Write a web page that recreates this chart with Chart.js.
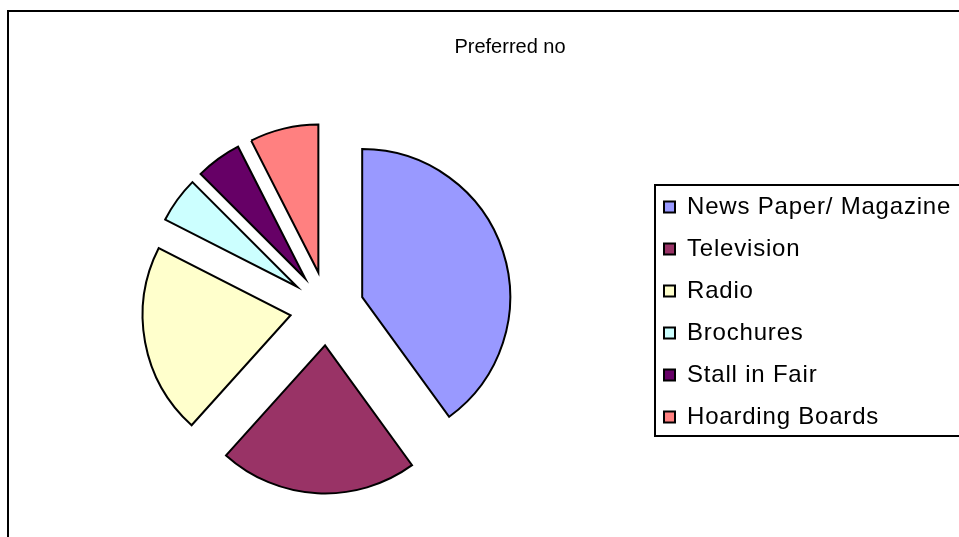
<!DOCTYPE html>
<html>
<head>
<meta charset="utf-8">
<script src="https://cdn.jsdelivr.net/npm/chart.js@4/dist/chart.umd.min.js"></script>
<style>
  html, body { margin: 0; padding: 0; background: #fff; overflow: hidden; }
  #chartPreferred { display: block; }
</style>
</head>
<body>
<canvas id="chartPreferred" width="1020" height="620"></canvas>
<script>
const categories = ['News Paper/ Magazine', 'Television', 'Radio', 'Brochures', 'Stall in Fair', 'Hoarding Boards'];
const preferredNo = [48, 26, 25, 6, 6, 9];
const sliceColors = ['#9999FF', '#993366', '#FFFFCC', '#CCFFFF', '#660066', '#FF8080'];
const chartTitle = 'Preferred no';

const FONT = '"Liberation Sans", Arial, sans-serif';
const explodeBy = 37; // px each slice is pulled out from the centre

// pulls every slice out along its middle angle (excel style explode)
const explode = {
    id: 'explode',
    afterDatasetUpdate(chart, args) {
        args.meta.data.forEach(arc => {
            if (arc.exploded) return;
            const baseDraw = arc.draw;
            arc.draw = function (ctx, area) {
                const mid = (this.startAngle + this.endAngle) / 2;
                ctx.save();
                ctx.translate(Math.cos(mid) * explodeBy, Math.sin(mid) * explodeBy);
                baseDraw.call(this, ctx, area);
                ctx.restore();
            };
            arc.exploded = true;
        });
    }
};

// outer frame, title and the box round the legend
const frame = {
    id: 'frame',
    beforeLayout(chart) {
        chart.ctx.letterSpacing = '0.8px';
    },
    beforeDraw(chart) {
        const ctx = chart.ctx;
        ctx.save();
        ctx.fillStyle = '#fff';
        ctx.fillRect(0, 0, chart.width, chart.height);
        ctx.restore();
        ctx.letterSpacing = '0.8px';
    },
    afterDraw(chart) {
        const ctx = chart.ctx;
        const legend = chart.legend;
        const boxes = legend.legendHitBoxes;
        const last = boxes[boxes.length - 1];
        ctx.save();
        ctx.strokeStyle = '#000';
        ctx.lineWidth = 2;
        ctx.strokeRect(8, 11, 1004, 700);
        const top = boxes[0].top - 10;
        const bottom = last.top + last.height + 7;
        ctx.strokeRect(legend.left + 9, top, 400, bottom - top);
        ctx.fillStyle = '#000';
        ctx.font = '20px ' + FONT;
        ctx.letterSpacing = '0px';
        ctx.textAlign = 'center';
        ctx.textBaseline = 'middle';
        ctx.fillText(chartTitle, 510, 47);
        ctx.restore();
    }
};

new Chart(document.getElementById('chartPreferred'), {
    type: 'pie',
    data: {
        labels: categories,
        datasets: [{
            label: chartTitle,
            data: preferredNo,
            backgroundColor: sliceColors,
            borderColor: '#000',
            borderWidth: 2,
            borderJoinStyle: 'miter',
            radius: 148
        }]
    },
    options: {
        responsive: false,
        animation: false,
        events: [],
        layout: {
            padding: { left: 8, right: 60, top: 20, bottom: 23 }
        },
        plugins: {
            tooltip: { enabled: false },
            legend: {
                position: 'right',
                maxWidth: 314,
                title: { display: true, text: '', padding: 0, font: { size: 7, lineHeight: 1 } },
                labels: {
                    boxWidth: 11,
                    boxHeight: 11,
                    padding: 18,
                    color: '#000',
                    font: { family: FONT, size: 24 }
                }
            }
        }
    },
    plugins: [explode, frame]
});
</script>
</body>
</html>
